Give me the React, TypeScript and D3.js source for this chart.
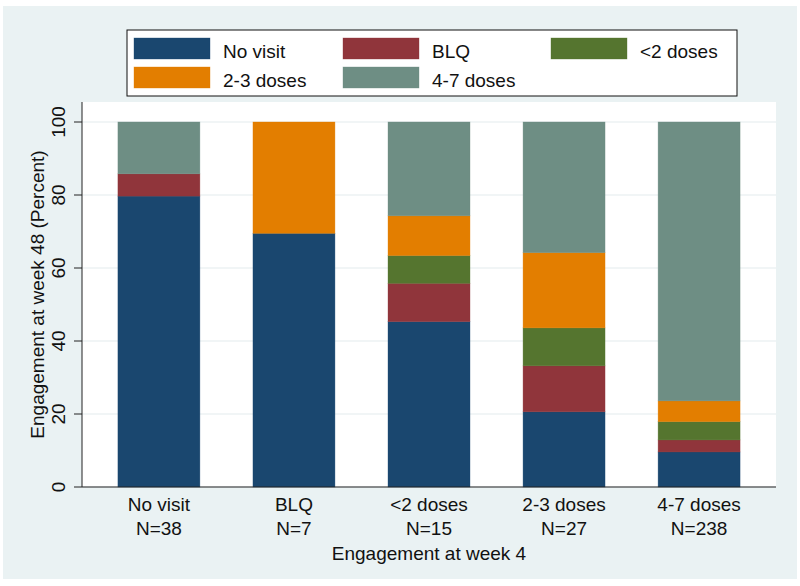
import React from "react";
import * as d3 from "d3";

const categories = ["No visit", "BLQ", "<2 doses", "2-3 doses", "4-7 doses"];
const sampleSizes = ["N=38", "N=7", "N=15", "N=27", "N=238"];
const seriesNames = ["No visit", "BLQ", "<2 doses", "2-3 doses", "4-7 doses"];
const seriesColors = ["#1a476f", "#90353b", "#55752f", "#e37e00", "#6e8e84"];

const noVisit = [79.7, 69.5, 45.3, 20.6, 9.6];
const blq = [6.1, 0, 10.5, 12.6, 3.3];
const lt2 = [0, 0, 7.6, 10.4, 5.0];
const dose23 = [0, 30.5, 10.9, 20.6, 5.7];
const dose47 = [14.2, 0, 25.7, 35.8, 76.4];
const yTicks = [0, 20, 40, 60, 80, 100];

const W = 800;
const H = 586;
const plot = { left: 82, right: 776, top: 102, bottom: 487 };
const FONT = "'Liberation Sans', Arial, Helvetica, sans-serif";
const FS = 19;

export default function App() {
  const series = [noVisit, blq, lt2, dose23, dose47];
  const rows = categories.map((c, i) => {
    const r: any = { cat: c };
    seriesNames.forEach((s, k) => (r[s] = series[k][i]));
    return r;
  });
  const stacked = d3.stack<any>().keys(seriesNames)(rows);

  const x = d3
    .scaleBand<string>()
    .domain(categories)
    .range([plot.left, plot.right])
    .paddingInner(0.393)
    .paddingOuter(0.266);
  const y = d3.scaleLinear().domain([0, 100]).range([487, 122]);

  const legendCols = [134, 343, 551];
  const legendRows = [38, 67];

  return (
    <svg
      width={W}
      height={H}
      style={{ position: "absolute", left: 0, top: 0, fontFamily: FONT }}
    >
      <rect x={0} y={0} width={W} height={H} fill="#ffffff" />
      <rect x={3} y={6} width={794} height={573} fill="#eaf2f3" />
      <rect
        x={plot.left}
        y={plot.top}
        width={plot.right - plot.left}
        height={plot.bottom - plot.top}
        fill="#ffffff"
      />
      {yTicks.map((t) => (
        <line
          key={"g" + t}
          x1={plot.left}
          x2={plot.right}
          y1={y(t)}
          y2={y(t)}
          stroke="#e3ecee"
          strokeWidth={1.2}
        />
      ))}
      {stacked.map((layer, k) =>
        layer.map((d, i) =>
          d[1] - d[0] > 0 ? (
            <rect
              key={k + "-" + i}
              x={x(categories[i])!}
              width={x.bandwidth()}
              y={y(d[1])}
              height={y(d[0]) - y(d[1])}
              fill={seriesColors[k]}
              stroke={seriesColors[k]}
              strokeOpacity={0.6}
              strokeWidth={0.6}
            />
          ) : null
        )
      )}
      {/* axes */}
      <line x1={plot.left} x2={plot.left} y1={plot.top} y2={plot.bottom} stroke="#222" strokeWidth={1} />
      <line x1={plot.left} x2={plot.right} y1={plot.bottom} y2={plot.bottom} stroke="#222" strokeWidth={1.2} />
      {yTicks.map((t) => (
        <g key={"t" + t}>
          <line x1={plot.left - 8} x2={plot.left} y1={y(t)} y2={y(t)} stroke="#222" strokeWidth={1} />
          <text
            transform={`translate(65,${y(t)}) rotate(-90)`}
            textAnchor="middle"
            fontSize={FS}
            fill="#111"
          >
            {t}
          </text>
        </g>
      ))}
      <text
        transform={`translate(44,${(plot.top + plot.bottom) / 2}) rotate(-90)`}
        textAnchor="middle"
        fontSize={FS}
        fill="#111"
      >
        Engagement at week 48 (Percent)
      </text>
      {categories.map((c, i) => (
        <g key={"xl" + c}>
          <text x={x(c)! + x.bandwidth() / 2} y={511} textAnchor="middle" fontSize={FS} fill="#111">
            {c}
          </text>
          <text x={x(c)! + x.bandwidth() / 2} y={535} textAnchor="middle" fontSize={FS} fill="#111">
            {sampleSizes[i]}
          </text>
        </g>
      ))}
      <text x={(plot.left + plot.right) / 2} y={560} textAnchor="middle" fontSize={FS} fill="#111">
        Engagement at week 4
      </text>
      {/* legend */}
      <rect x={127} y={30} width={610} height={66} fill="#ffffff" stroke="#111" strokeWidth={1} />
      {seriesNames.map((s, k) => {
        const col = k % 3;
        const row = Math.floor(k / 3);
        const sx = legendCols[col];
        const sy = legendRows[row];
        return (
          <g key={"lg" + s}>
            <rect
              x={sx}
              y={sy}
              width={76}
              height={21}
              fill={seriesColors[k]}
              stroke={seriesColors[k]}
              strokeOpacity={0.6}
              strokeWidth={0.6}
            />
            <text x={sx + 89} y={sy + 20} fontSize={FS} fill="#111">
              {s}
            </text>
          </g>
        );
      })}
    </svg>
  );
}
